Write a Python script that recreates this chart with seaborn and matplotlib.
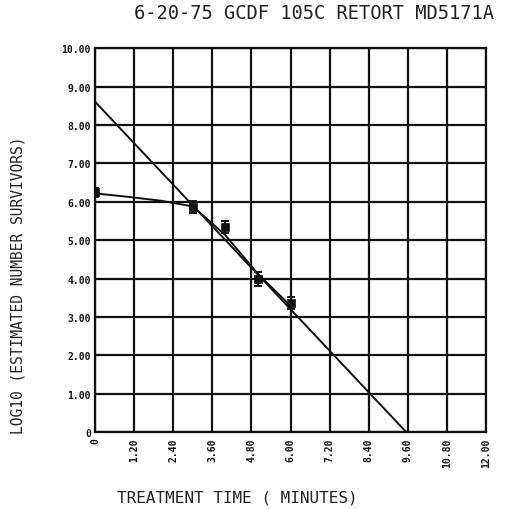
import matplotlib
matplotlib.use("Agg")
import matplotlib.pyplot as plt
import seaborn as sns
import pandas as pd

# Survivor counts (log10) at each treatment time, with spread
times = [0.0, 3.0, 4.0, 5.0, 6.0]
log_survivors = [6.25, 5.86, 5.34, 3.99, 3.36]
spread = [0.12, 0.15, 0.15, 0.18, 0.15]

# Fitted survivor curve with shoulder
curve_t = [0.0, 1.0, 2.0, 3.0, 4.0, 5.0, 6.0]
curve_log = [6.22, 6.13, 6.03, 5.88, 5.13, 4.12, 3.29]

# Straight-line extrapolation of the log-linear portion
line_t = [0.0, 9.55]
line_log = [8.61, 0.0]

x_ticks = [0, 1.2, 2.4, 3.6, 4.8, 6.0, 7.2, 8.4, 9.6, 10.8, 12.0]
x_labels = ["0", "1.20", "2.40", "3.60", "4.80", "6.00", "7.20", "8.40", "9.60", "10.80", "12.00"]
y_ticks = [0, 1, 2, 3, 4, 5, 6, 7, 8, 9, 10]
y_labels = ["0", "1.00", "2.00", "3.00", "4.00", "5.00", "6.00", "7.00", "8.00", "9.00", "10.00"]

sns.set_theme(style="white")
plt.rcParams["font.family"] = ["DejaVu Sans"]

fig = plt.figure(figsize=(5.05, 5.10), dpi=100)
ax = fig.add_axes([0.1881, 0.151, 0.7743, 0.7523])

pts = pd.DataFrame({"t": times, "y": log_survivors})
curve = pd.DataFrame({"t": curve_t, "y": curve_log})
line = pd.DataFrame({"t": line_t, "y": line_log})

sns.lineplot(data=line, x="t", y="y", ax=ax, color="#111111", lw=1.4, zorder=3)
sns.lineplot(data=curve, x="t", y="y", ax=ax, color="#111111", lw=1.4, zorder=3)
ax.errorbar(times, log_survivors, yerr=spread, fmt="none", ecolor="#111111",
            elinewidth=1.4, capsize=3, capthick=1.4, zorder=4)
sns.scatterplot(data=pts, x="t", y="y", ax=ax, marker="s", s=38, color="#111111",
                edgecolor="#111111", zorder=5)

ax.set_xlim(0, 12)
ax.set_ylim(0, 10)
ax.set_xticks(x_ticks)
ax.set_xticklabels(x_labels, rotation=90, fontsize=7, fontweight="bold",
                   family="DejaVu Sans Mono")
ax.set_yticks(y_ticks)
ax.set_yticklabels(y_labels, fontsize=7, fontweight="bold", family="DejaVu Sans Mono")
ax.tick_params(axis="x", length=0, pad=4, colors="#111111")
ax.tick_params(axis="y", length=0, pad=3, colors="#111111")
ax.grid(True, color="#111111", lw=1.6)
for s in ax.spines.values():
    s.set_color("#111111")
    s.set_linewidth(1.6)
ax.set_xlabel("")
ax.set_ylabel("")

fig.text(0.622, 0.974, "6-20-75 GCDF 105C RETORT MD5171A", ha="center", va="center",
         fontsize=13.5, family="DejaVu Sans Mono", color="#222222")
fig.text(0.036, 0.441, "LOG10 (ESTIMATED NUMBER SURVIVORS)", rotation=90,
         ha="center", va="center", fontsize=10.5, family="DejaVu Sans Mono", color="#222222")
fig.text(0.469, 0.024, "TREATMENT TIME ( MINUTES)", ha="center", va="center",
         fontsize=11.5, family="DejaVu Sans Mono", color="#222222")

fig.savefig("out.png", dpi=100)
